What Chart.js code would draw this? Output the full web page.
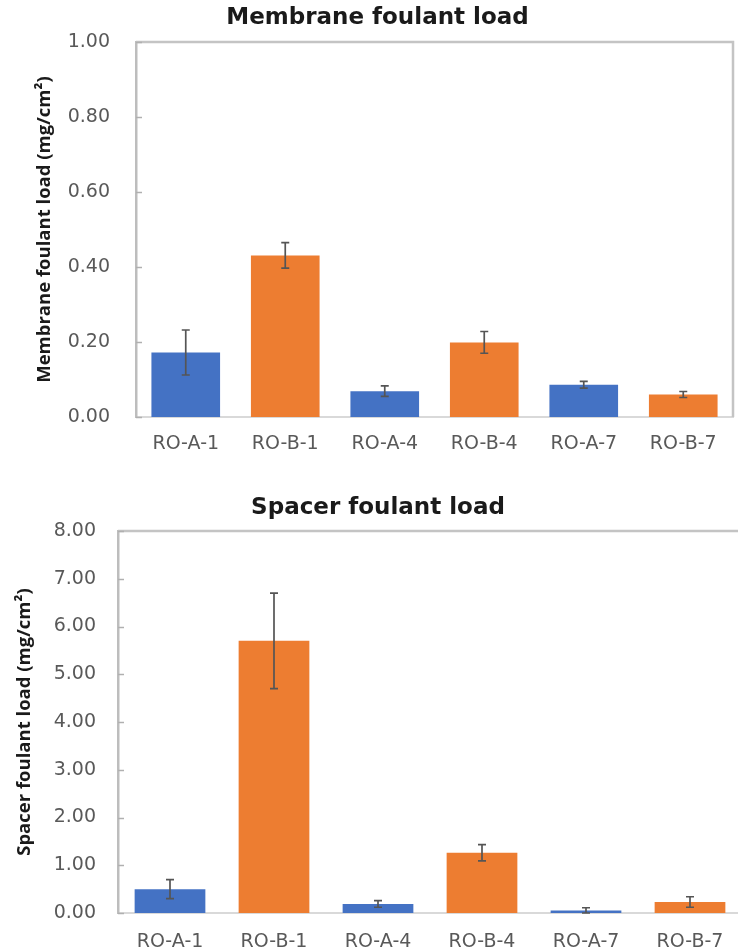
<!DOCTYPE html>
<html>
<head>
<meta charset="utf-8">
<script src="https://cdn.jsdelivr.net/npm/chart.js@4.4.0/dist/chart.umd.min.js"></script>
<style>
  html, body { margin: 0; padding: 0; background: #fff; width: 738px; height: 949px; overflow: hidden; position: relative; }
  .box { position: absolute; left: 0; }
</style>
</head>
<body>
<div class="box" style="top:0;width:738px;height:470px"><canvas id="membraneChart"></canvas></div>
<div class="box" style="top:470px;width:744px;height:479px"><canvas id="spacerChart"></canvas></div>
<script>
// Data
const categories = ['RO-A-1', 'RO-B-1', 'RO-A-4', 'RO-B-4', 'RO-A-7', 'RO-B-7'];
const membraneLoad = [0.172, 0.431, 0.069, 0.199, 0.086, 0.060];
const membraneErr = [0.06, 0.034, 0.014, 0.029, 0.009, 0.008];
const spacerLoad = [0.50, 5.70, 0.19, 1.26, 0.05, 0.23];
const spacerErr = [0.20, 1.00, 0.07, 0.17, 0.06, 0.11];
const membraneTicks = [0, 0.2, 0.4, 0.6, 0.8, 1.0];
const spacerTicks = [0, 1, 2, 3, 4, 5, 6, 7, 8];
const barColors = ['#4472C4', '#ED7D31', '#4472C4', '#ED7D31', '#4472C4', '#ED7D31'];

const TEXT_FONT = "'DejaVu Sans', 'Open Sans', sans-serif";
const AXIS_TITLE_FONT = "'Open Sans', 'Noto Sans', sans-serif";

// Draws error bars, the top/right frame and inward y tick marks
const extrasPlugin = {
  id: 'extras',
  afterDatasetsDraw(chart, args, opts) {
    const ctx = chart.ctx;
    const area = chart.chartArea;
    const y = chart.scales.y;
    const meta = chart.getDatasetMeta(0);
    const values = chart.data.datasets[0].data;

    ctx.save();
    // frame
    ctx.strokeStyle = '#c4c4c4';
    ctx.lineWidth = 2.5;
    ctx.beginPath();
    ctx.moveTo(area.left, area.top);
    ctx.lineTo(area.right, area.top);
    ctx.lineTo(area.right, area.bottom);
    ctx.stroke();

    // inward tick marks
    ctx.lineWidth = 1.5;
    ctx.strokeStyle = '#b0b0b0';
    y.ticks.forEach(t => {
      const py = Math.round(y.getPixelForValue(t.value)) + 0.5;
      ctx.beginPath();
      ctx.moveTo(area.left, py);
      ctx.lineTo(area.left + 6, py);
      ctx.stroke();
    });

    // error bars
    ctx.strokeStyle = '#555555';
    ctx.lineWidth = 1.7;
    meta.data.forEach((bar, i) => {
      const v = values[i], e = opts.errors[i];
      const top = y.getPixelForValue(v + e);
      const bot = y.getPixelForValue(Math.max(v - e, 0));
      const x = bar.x;
      ctx.beginPath();
      ctx.moveTo(x, top); ctx.lineTo(x, bot);
      ctx.moveTo(x - 4, top); ctx.lineTo(x + 4, top);
      ctx.moveTo(x - 4, bot); ctx.lineTo(x + 4, bot);
      ctx.stroke();
    });
    ctx.restore();
  }
};

function makeChart(id, values, errors, tickValues, title, yTitle, L) {
  return new Chart(document.getElementById(id), {
    type: 'bar',
    data: {
      labels: categories,
      datasets: [{
        data: values,
        backgroundColor: barColors,
        borderWidth: 0,
        categoryPercentage: 1,
        barPercentage: L.barPct
      }]
    },
    options: {
      responsive: true,
      maintainAspectRatio: false,
      animation: false,
      layout: { padding: { left: L.padLeft, right: L.padRight, top: 0, bottom: 0 } },
      plugins: {
        legend: { display: false },
        tooltip: { enabled: false },
        title: {
          display: true,
          text: title,
          color: '#1a1a1a',
          font: { family: TEXT_FONT, size: 23, weight: 'bold' },
          padding: { top: L.titleTop, bottom: L.titleBottom }
        },
        extras: { errors: errors }
      },
      scales: {
        x: {
          grid: { display: false, drawTicks: false },
          border: { display: true, color: '#d9d9d9', width: 2 },
          ticks: { color: '#595959', font: { family: TEXT_FONT, size: 19 }, padding: L.xPad, maxRotation: 0 },
          afterFit(scale) { scale.height = L.xHeight; }
        },
        y: {
          min: tickValues[0],
          max: tickValues[tickValues.length - 1],
          afterBuildTicks(scale) { scale.ticks = tickValues.map(v => ({ value: v })); },
          grid: { display: false, drawTicks: false },
          border: { display: true, color: '#bdbdbd', width: 2.5 },
          ticks: {
            color: '#595959',
            font: { family: TEXT_FONT, size: 19 },
            padding: L.yPad,
            callback: v => Number(v).toFixed(2)
          },
          title: {
            display: true,
            text: yTitle,
            color: '#1a1a1a',
            font: { family: AXIS_TITLE_FONT, size: 18.5, weight: 'bold' },
            padding: { top: L.yTitlePad, bottom: 0 }
          },
          afterFit(scale) { scale.width = L.yWidth; }
        }
      }
    },
    plugins: [extrasPlugin]
  });
}

makeChart('membraneChart', membraneLoad, membraneErr, membraneTicks,
  'Membrane foulant load', 'Membrane foulant load (mg/cm\u00B2)',
  { padLeft: 22, padRight: 5, titleTop: 4.2, titleBottom: 10.2, xPad: 16, xHeight: 53, yPad: 26,
    yTitlePad: 12, yWidth: 114, barPct: 0.69 });

makeChart('spacerChart', spacerLoad, spacerErr, spacerTicks,
  'Spacer foulant load', 'Spacer foulant load (mg/cm\u00B2)',
  { padLeft: 14, padRight: 2, titleTop: 24.2, titleBottom: 9.2, xPad: 18, xHeight: 36, yPad: 22,
    yTitlePad: 0, yWidth: 104, barPct: 0.68 });
</script>
</body>
</html>
